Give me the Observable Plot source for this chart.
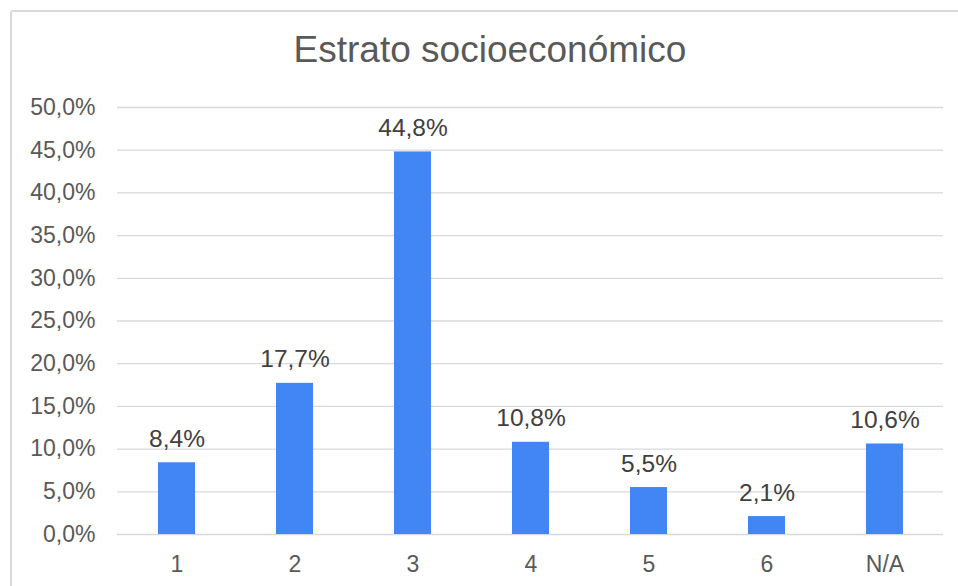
<!DOCTYPE html>
<html>
<head>
<meta charset="utf-8">
<script src="https://cdn.jsdelivr.net/npm/d3@7"></script>
<script src="https://cdn.jsdelivr.net/npm/@observablehq/plot@0.6"></script>
<style>
  html, body { margin: 0; padding: 0; background: #fff; overflow: hidden; }
  #wrap { position: relative; width: 958px; height: 586px; font-family: "Liberation Sans", Arial, sans-serif; }
  #frame { position: absolute; left: 10px; top: 10px; width: 980px; height: 620px; border: 2px solid #d9d9d9; border-radius: 3px; box-sizing: border-box; }
  #title { position: absolute; left: 0; top: 31px; width: 980px; text-align: center; font-size: 37px; line-height: 1; color: #595959; }
  #chart { position: absolute; left: 0; top: 0; }
</style>
</head>
<body>
<div id="wrap">
  <div id="frame"></div>
  <div id="title">Estrato socioeconómico</div>
  <div id="chart"></div>
</div>
<script>
const categories = ["1", "2", "3", "4", "5", "6", "N/A"];
const values = [8.4, 17.7, 44.8, 10.8, 5.5, 2.1, 10.6];
const yTicks = [0, 5, 10, 15, 20, 25, 30, 35, 40, 45, 50];

const data = categories.map((c, i) => ({ cat: c, value: values[i] }));
const pct = v => v.toFixed(1).replace(".", ",") + "%";

const chart = Plot.plot({
  width: 958,
  height: 586,
  marginLeft: 117,
  marginRight: 15,
  marginTop: 107,
  marginBottom: 52,
  style: { fontFamily: "'Liberation Sans', Arial, sans-serif", background: "transparent", overflow: "visible" },
  x: { domain: categories, paddingInner: 0.687, paddingOuter: 0.3435, label: null },
  y: { domain: [0, 50], label: null },
  marks: [
    Plot.gridY(yTicks, { stroke: "#d9d9d9", strokeOpacity: 1, strokeWidth: 1.3 }),
    Plot.barY(data, { x: "cat", y: "value", fill: "#4285f4" }),
    Plot.text(data, {
      x: "cat", y: "value", text: d => pct(d.value),
      lineAnchor: "bottom", dy: -16, fontSize: 24.5, fill: "#404040"
    }),
    Plot.axisY({
      ticks: yTicks, tickFormat: pct, tickSize: 0, tickPadding: 22,
      fontSize: 23, color: "#595959", label: null
    }),
    Plot.axisX({
      tickSize: 0, tickPadding: 21, fontSize: 23, color: "#595959", label: null
    })
  ]
});
document.getElementById("chart").appendChild(chart);
</script>
</body>
</html>
